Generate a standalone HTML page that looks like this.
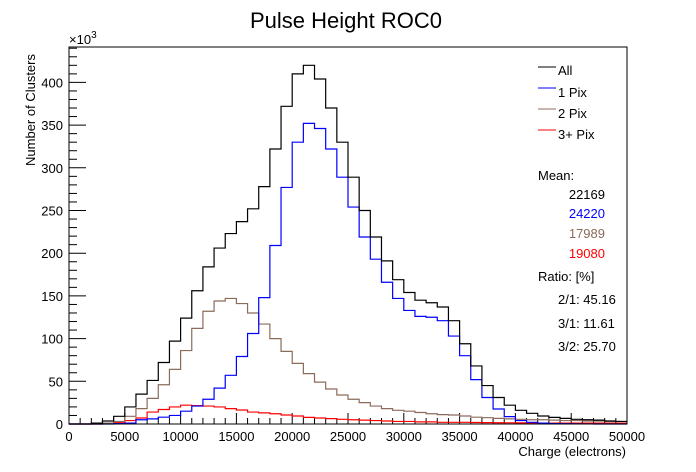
<!DOCTYPE html>
<html><head><meta charset="utf-8"><style>
body{margin:0;background:#fff;}
svg{display:block;font-family:"Liberation Sans",Arial,sans-serif;}
</style></head><body>
<svg id="chart" width="696" height="472">
<rect width="696" height="472" fill="#fff"/>
<text x="346" y="28" font-size="22" text-anchor="middle">Pulse Height ROC0</text>
<g id="axes"></g>
<g id="series"></g>
<rect x="69" y="47" width="558" height="377" fill="none" stroke="#000" stroke-width="1"/>
<text x="69" y="44" font-size="13">×10<tspan dy="-6" font-size="10">3</tspan></text>
<text transform="translate(35,110) rotate(-90)" font-size="13" text-anchor="middle">Number of Clusters</text>
<text x="626" y="456" font-size="13" text-anchor="end">Charge (electrons)</text>
<g font-size="13">
<line x1="538" y1="67" x2="556" y2="67" stroke="#000"/>
<text x="558" y="75">All</text>
<line x1="538" y1="88" x2="556" y2="88" stroke="#00f"/>
<text x="558" y="97">1 Pix</text>
<line x1="538" y1="109" x2="556" y2="109" stroke="#8b6b5a"/>
<text x="558" y="118">2 Pix</text>
<line x1="538" y1="130" x2="556" y2="130" stroke="#f00"/>
<text x="558" y="139">3+ Pix</text>
<text x="538" y="180">Mean:</text>
<text x="605" y="199" text-anchor="end" fill="#000">22169</text>
<text x="605" y="218" text-anchor="end" fill="#00f">24220</text>
<text x="605" y="238" text-anchor="end" fill="#8b6b5a">17989</text>
<text x="605" y="258" text-anchor="end" fill="#f00">19080</text>
<text x="538" y="281">Ratio: [%]</text>
<text x="558" y="304">2/1: 45.16</text>
<text x="558" y="328">3/1: 11.61</text>
<text x="558" y="351">3/2: 25.70</text>
</g>
</svg>
<script>
const binEdgesStart = 0, binWidth = 1000;
const allCounts = [0,0,1,3.5,9,20,35,51,72,97,124,156,184,206,223,237,252,278,322,372,410,420,404,370,330,289,250,219,191,169,154,145,142,137,121,94,68,45,31,22,16,12.5,9.4,7.8,6.6,5.5,5,4.5,3.5,3];
const onePixCounts = [0,0,0,0,0.5,1,5,6,8,10,15,21,29,42,57,79,106,148,209,277,330,352,346,322,289,254,219,193,166,147,133,126,125,121,103,80,52,31,17.6,8.6,4,2,1,0.5,0.3,0.2,0.1,0,0,0];
const twoPixCounts = [0,0,0,1,3,9,18,30,46,64,86,112,132,144,147,141,130,117,100,85,71,59,49,41,34,29,25,21,18,16,15,13.5,12,11,10.5,9.4,8,7.4,6.6,6,5.5,5,5,4.5,4,4,3.5,3.5,3,3];
const threePixCounts = [0,0,0,0.3,1.5,4,7,14,17,20,22,21.5,21,20,18,16.4,14,13,12,10.5,9.4,7.8,7,6.3,5.5,5,4.5,4,3.5,3,3,2.5,2.5,2,2,2,1.8,1.6,1.5,1.4,1.3,1.2,1.1,1,1,1,1,1,1,1];
const yTickLabels = [0,50,100,150,200,250,300,350,400];
const xTickLabels = [0,5000,10000,15000,20000,25000,30000,35000,40000,45000,50000];

const X0=69,X1=627,Y0=424,Ytop=47;
const xScale = v => X0 + (v-0)/(50000-0)*(X1-X0);
const yScale = v => Y0 - v*0.854;
const NS="http://www.w3.org/2000/svg";
const axes=document.getElementById('axes'), series=document.getElementById('series');
function mk(tag,attrs,parent){const e=document.createElementNS(NS,tag);for(const k in attrs)e.setAttribute(k,attrs[k]);parent.appendChild(e);return e;}

// y ticks
for(let v=0; v<=440; v+=10){
  const y=yScale(v); if(y<Ytop) break;
  const major = v%50===0;
  const t=mk('line',{x1:X0,x2:X0+(major?17:8),y1:y,y2:y,stroke:'#000'},axes);
  
  
}
yTickLabels.forEach(v=>{
  const t=mk('text',{x:X0-6,y:yScale(v)+5,'font-size':13,'text-anchor':'end'},axes);
  t.textContent=v;
  
  
});
// x ticks
for(let v=0; v<=50000; v+=1000){
  const x=xScale(v), major=v%5000===0;
  const t=mk('line',{x1:x,x2:x,y1:Y0,y2:Y0-(major?11:6),stroke:'#000'},axes);
  
  
}
xTickLabels.forEach(v=>{
  const t=mk('text',{x:xScale(v),y:Y0+17,'font-size':13,'text-anchor':'middle'},axes);
  t.textContent=v;
  
  
});

function stepPath(arr){
  let d='M'+xScale(binEdgesStart)+','+yScale(0);
  arr.forEach((v,i)=>{
    const xa=xScale(binEdgesStart+i*binWidth), xb=xScale(binEdgesStart+(i+1)*binWidth), y=yScale(v);
    d+=' L'+xa+','+y+' L'+xb+','+y;
  });
  return d;
}
[[threePixCounts,'#f00','hist-3pix'],[twoPixCounts,'#8b6b5a','hist-2pix'],[onePixCounts,'#00f','hist-1pix'],[allCounts,'#000','hist-all']].forEach(([arr,c,n])=>{
  const p=mk('path',{d:stepPath(arr),fill:'none',stroke:c,'stroke-width':1.2},series);
  
  
});
</script>
</body></html>
